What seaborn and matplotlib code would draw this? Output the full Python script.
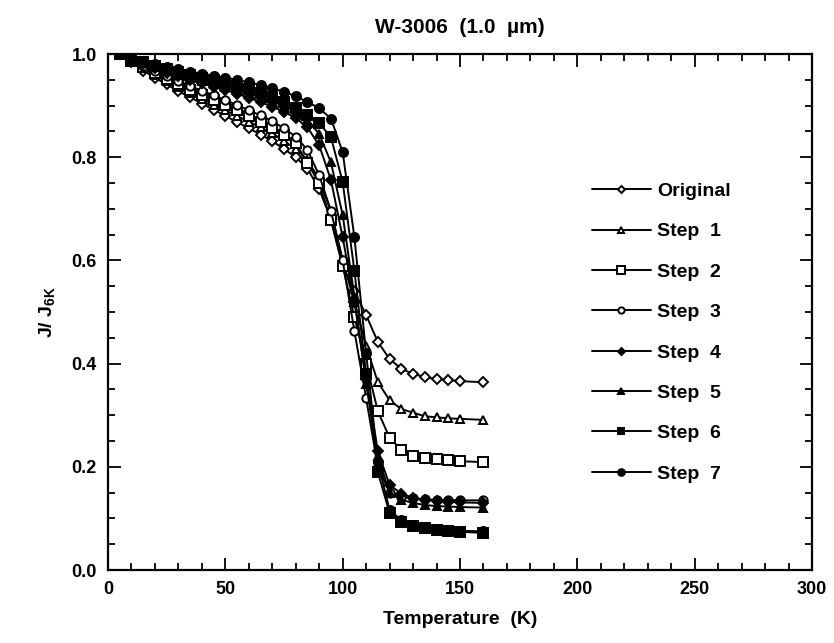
import numpy as np
import pandas as pd
import seaborn as sns
import matplotlib.pyplot as plt
from matplotlib.ticker import MultipleLocator

temps = [5, 10, 15, 20, 25, 30, 35, 40, 45, 50, 55, 60, 65, 70, 75, 80, 85, 90,
         95, 100, 105, 110, 115, 120, 125, 130, 135, 140, 145, 150, 160]

original = [1.0, 0.984, 0.968, 0.954, 0.941, 0.928, 0.916, 0.904, 0.892, 0.880, 0.868,
            0.856, 0.844, 0.831, 0.816, 0.800, 0.778, 0.738, 0.680, 0.590, 0.540, 0.494,
            0.442, 0.409, 0.390, 0.380, 0.374, 0.370, 0.368, 0.366, 0.364]
step1 = [1.0, 0.986, 0.972, 0.959, 0.947, 0.936, 0.924, 0.913, 0.902, 0.891, 0.880,
         0.869, 0.858, 0.846, 0.832, 0.816, 0.795, 0.757, 0.695, 0.600, 0.520, 0.434,
         0.364, 0.329, 0.312, 0.305, 0.298, 0.296, 0.294, 0.293, 0.291]
step2 = [1.0, 0.987, 0.975, 0.963, 0.952, 0.942, 0.931, 0.921, 0.911, 0.901, 0.891,
         0.880, 0.869, 0.857, 0.843, 0.827, 0.789, 0.750, 0.678, 0.589, 0.490, 0.400,
         0.308, 0.256, 0.233, 0.221, 0.217, 0.215, 0.213, 0.211, 0.209]
step3 = [1.0, 0.988, 0.977, 0.967, 0.957, 0.948, 0.938, 0.929, 0.920, 0.911, 0.901,
         0.891, 0.881, 0.870, 0.856, 0.840, 0.814, 0.765, 0.696, 0.600, 0.463, 0.333,
         0.200, 0.150, 0.142, 0.139, 0.137, 0.136, 0.136, 0.135, 0.135]
step4 = [1.0, 0.989, 0.980, 0.972, 0.964, 0.957, 0.950, 0.943, 0.937, 0.930, 0.923,
         0.915, 0.907, 0.898, 0.888, 0.876, 0.858, 0.823, 0.756, 0.645, 0.520, 0.370,
         0.230, 0.165, 0.148, 0.140, 0.136, 0.134, 0.132, 0.131, 0.130]
step5 = [1.0, 0.990, 0.982, 0.974, 0.967, 0.960, 0.954, 0.948, 0.942, 0.936, 0.930,
         0.923, 0.916, 0.908, 0.899, 0.888, 0.873, 0.845, 0.790, 0.688, 0.530, 0.360,
         0.220, 0.150, 0.136, 0.130, 0.126, 0.124, 0.123, 0.122, 0.121]
step6 = [1.0, 0.991, 0.984, 0.977, 0.971, 0.965, 0.959, 0.954, 0.949, 0.944, 0.938,
         0.932, 0.925, 0.917, 0.907, 0.896, 0.882, 0.866, 0.839, 0.752, 0.580, 0.380,
         0.190, 0.110, 0.094, 0.086, 0.081, 0.078, 0.076, 0.074, 0.072]
step7 = [1.0, 0.992, 0.986, 0.980, 0.975, 0.970, 0.966, 0.962, 0.958, 0.954, 0.950,
         0.945, 0.940, 0.934, 0.927, 0.918, 0.907, 0.895, 0.875, 0.810, 0.645, 0.420,
         0.210, 0.116, 0.097, 0.088, 0.083, 0.080, 0.078, 0.076, 0.075]

labels = ["Original", "Step  1", "Step  2", "Step  3", "Step  4", "Step  5", "Step  6", "Step  7"]
series = [original, step1, step2, step3, step4, step5, step6, step7]
markers = ["D", "^", "s", "o", "D", "^", "s", "o"]
msizes = [4.8, 6, 7, 6, 4.8, 6, 6.5, 6.5]
filled = [False, False, False, False, True, True, True, True]

sns.set_style("ticks")
plt.rcParams['font.family'] = ['Liberation Sans', 'DejaVu Sans']
plt.rcParams['font.weight'] = 'bold'
plt.rcParams['mathtext.fontset'] = 'custom'
plt.rcParams['mathtext.bf'] = 'Liberation Sans:bold'
for k in ['text.color', 'axes.labelcolor', 'xtick.color', 'ytick.color', 'axes.edgecolor']:
    plt.rcParams[k] = 'black'

fig = plt.figure(figsize=(8.34, 6.43), dpi=100)
ax = fig.add_axes([0.1295, 0.1135, 0.8441, 0.8025])

for lab, vals, m, ms, f in zip(labels, series, markers, msizes, filled):
    df = pd.DataFrame({"T": temps, "J": vals})
    sns.lineplot(data=df, x="T", y="J", ax=ax, color="black", linewidth=1.4,
                 marker=m, markersize=ms, markeredgecolor="black",
                 markeredgewidth=1.4, markerfacecolor="black" if f else "white",
                 label=lab)

ax.set_xlim(0, 300)
ax.set_ylim(0, 1.0)
ax.xaxis.set_major_locator(MultipleLocator(50))
ax.xaxis.set_minor_locator(MultipleLocator(10))
ax.yaxis.set_major_locator(MultipleLocator(0.2))
ax.yaxis.set_minor_locator(MultipleLocator(0.05))
ax.yaxis.set_major_formatter(plt.FuncFormatter(lambda v, p: f"{v:.1f}"))
ax.tick_params(which="both", direction="in", top=True, right=True, width=1.3,
               labelsize=13, pad=8)
ax.tick_params(which="major", length=9)
ax.tick_params(which="minor", length=5)
for s in ax.spines.values():
    s.set_linewidth(1.6)

ax.set_xlabel("Temperature  (K)", fontsize=14, fontweight="bold", labelpad=9)
ax.set_ylabel(r"J/ J$_{\mathbf{6K}}$", fontsize=14, fontweight="bold", labelpad=10)
ax.set_title("W-3006  (1.0  \u00b5m)", fontsize=15, fontweight="bold", pad=15)

leg = ax.legend(loc="upper left", bbox_to_anchor=(0.663, 0.785), frameon=False,
                fontsize=14, handlelength=3.0, labelspacing=1.17, markerscale=0.75,
                handletextpad=0.35)

fig.savefig("out.png", dpi=100)
